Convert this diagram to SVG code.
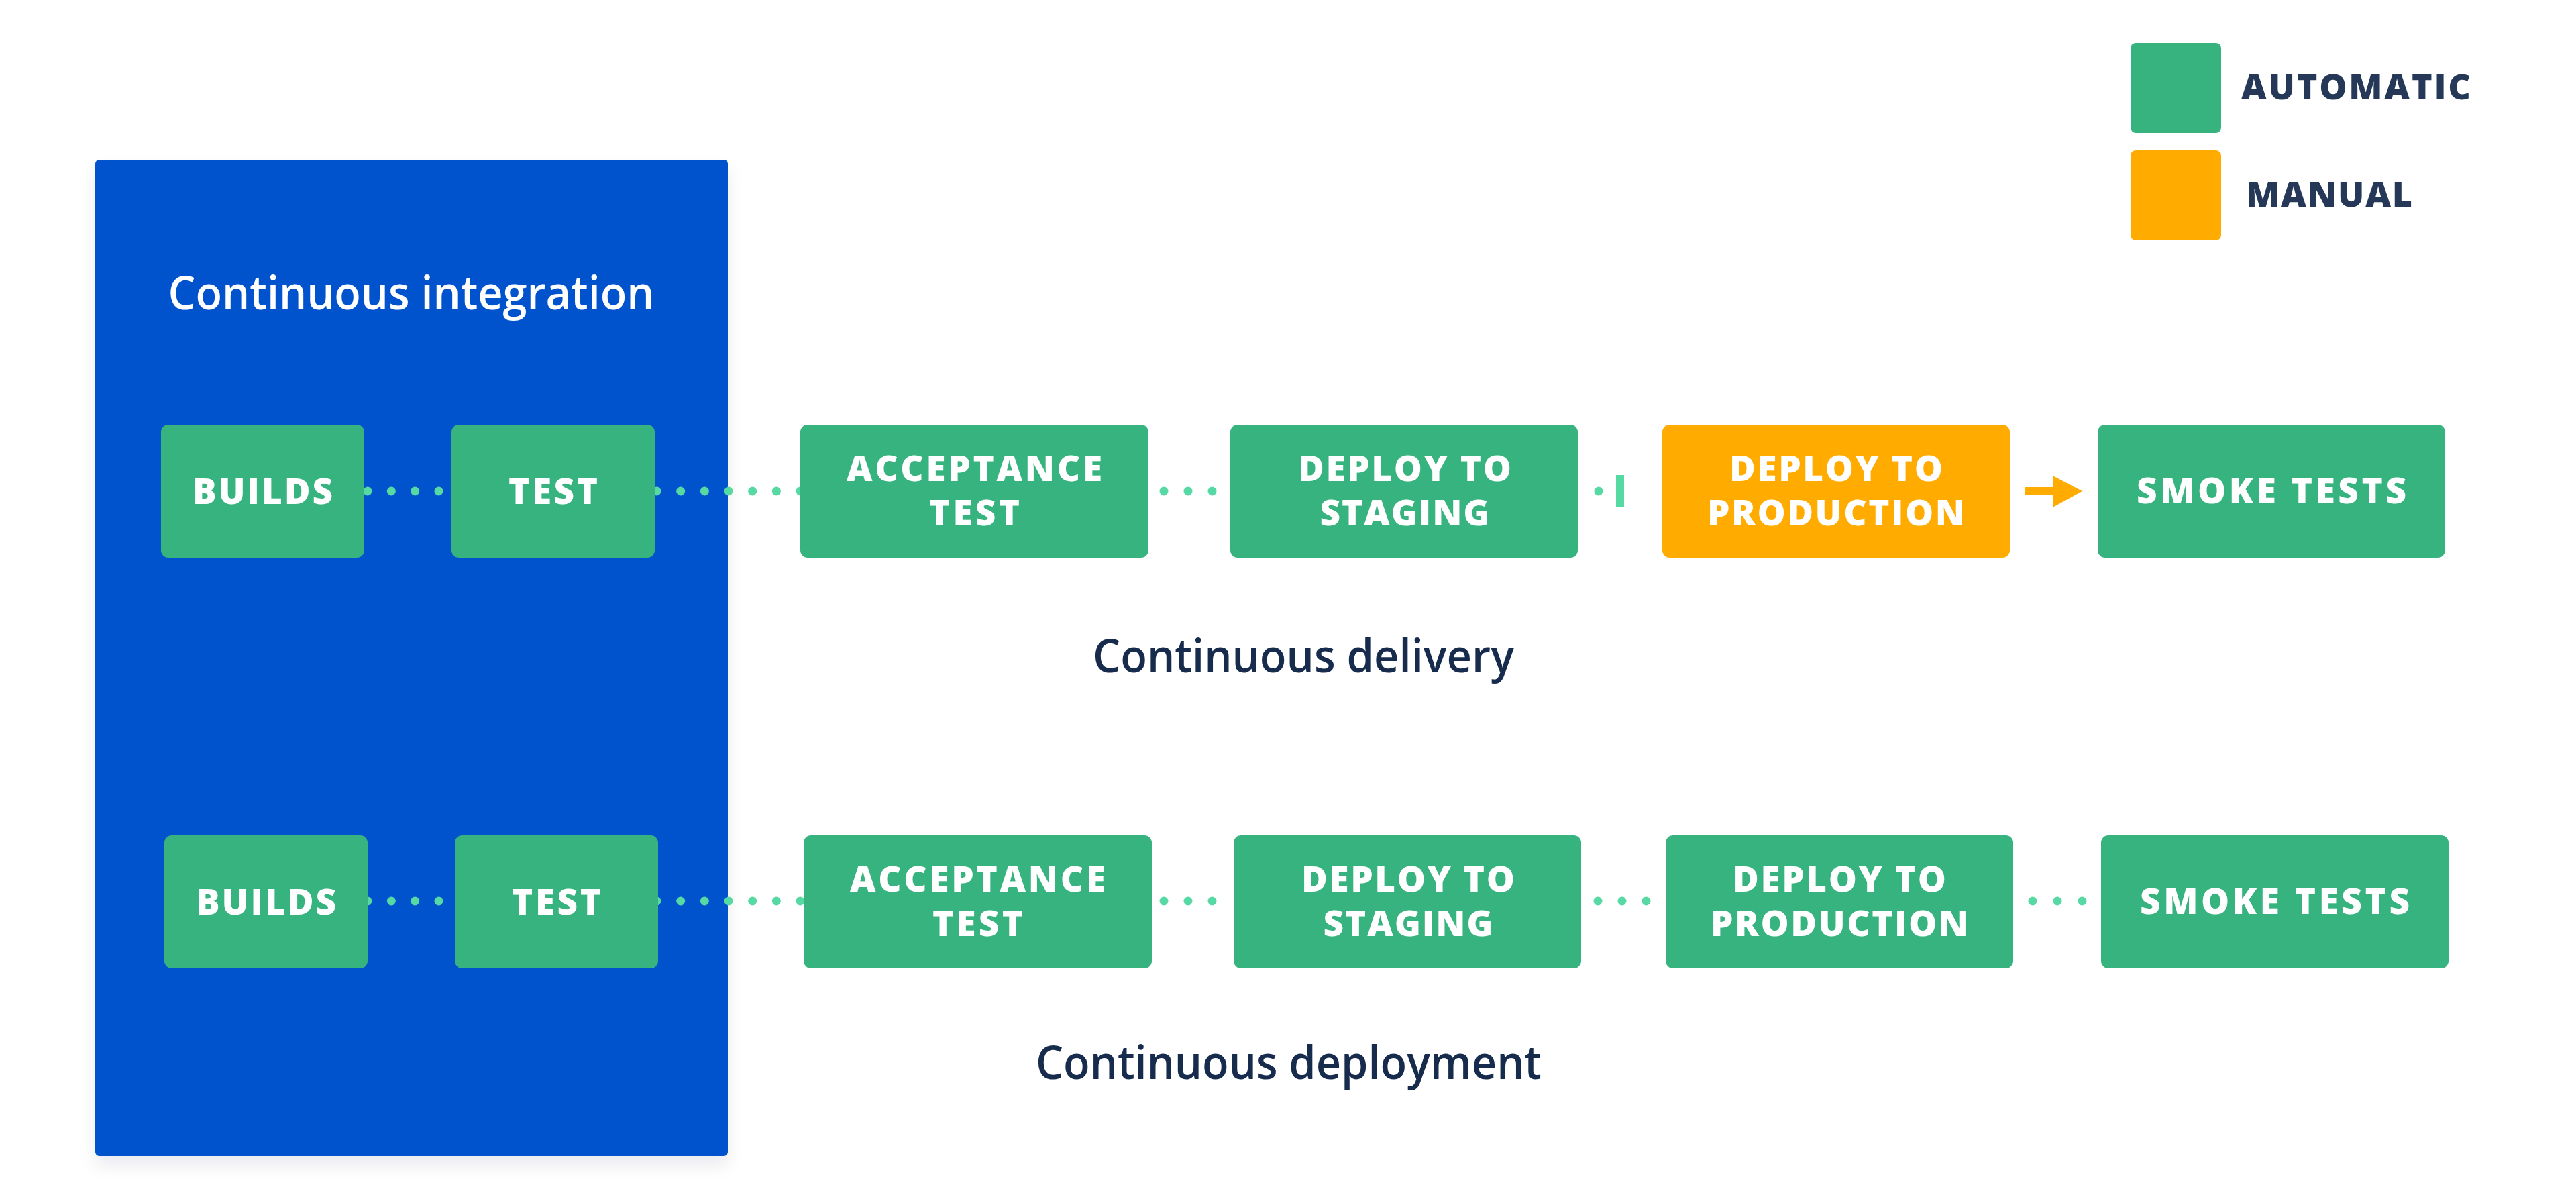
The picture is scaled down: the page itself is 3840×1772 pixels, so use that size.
<svg xmlns="http://www.w3.org/2000/svg" width="3840" height="1772" viewBox="0 0 3840 1772">
<style>
.auto{fill:#36B37E}
.manual{fill:#FFAB00}
.lbl{font-family:"Open Sans","Liberation Sans",sans-serif;font-weight:800;font-size:53px;fill:#FFFFFF;text-anchor:middle}
.title{font-family:"Open Sans","Liberation Sans",sans-serif;font-weight:600;font-size:68px}
.leg{font-family:"Open Sans","Liberation Sans",sans-serif;font-weight:800;font-size:52px;fill:#253858}
.dots{stroke:#57D9A3;stroke-width:13;stroke-linecap:round;fill:none}
</style>
<defs>
<filter id="sh" x="-10%" y="-10%" width="120%" height="120%">
<feDropShadow dx="0" dy="14" stdDeviation="12" flood-color="#091E42" flood-opacity="0.08"/>
</filter>
</defs>
<rect width="3840" height="1772" fill="#FFFFFF"/>

<g id="ci-panel">
<rect x="142" y="238" width="943" height="1485" rx="6" fill="#0052CC" filter="url(#sh)"/>
<text class="title" x="613" y="461" fill="#FFFFFF" text-anchor="middle" textLength="725" lengthAdjust="spacingAndGlyphs">Continuous integration</text>
</g>

<g id="legend">
<rect class="auto" x="3176" y="64" width="135" height="134" rx="8"/>
<text class="leg" x="3341" y="148" textLength="342" lengthAdjust="spacing">AUTOMATIC</text>
<rect class="manual" x="3176" y="224" width="135" height="134" rx="8"/>
<text class="leg" x="3348" y="308" textLength="248" lengthAdjust="spacing">MANUAL</text>
</g>

<g id="connectors">
<!-- row 1 -->
<line class="dots" x1="548" y1="732" x2="656" y2="732" stroke-dasharray="0 35.33"/>
<line class="dots" x1="979" y1="732" x2="1195" y2="732" stroke-dasharray="0 35.67"/>
<line class="dots" x1="1735" y1="732" x2="1809" y2="732" stroke-dasharray="0 36"/>
<circle cx="2383" cy="732" r="6.5" fill="#57D9A3"/>
<rect x="2409" y="708" width="12" height="48" fill="#57D9A3"/>
<path d="M3019 726 H3060 V709 L3104 732 L3060 756 V738 H3019 Z" fill="#FFAB00"/>
<!-- row 2 -->
<line class="dots" x1="548" y1="1343" x2="656" y2="1343" stroke-dasharray="0 35.33"/>
<line class="dots" x1="979" y1="1343" x2="1195" y2="1343" stroke-dasharray="0 35.67"/>
<line class="dots" x1="1735" y1="1343" x2="1809" y2="1343" stroke-dasharray="0 36"/>
<line class="dots" x1="2382" y1="1343" x2="2456" y2="1343" stroke-dasharray="0 36"/>
<line class="dots" x1="3030" y1="1343" x2="3106" y2="1343" stroke-dasharray="0 37"/>
</g>

<g id="row1">
<g id="r1-builds"><rect class="auto" x="240" y="633" width="303" height="198" rx="11"/><text class="lbl" x="391.5" y="751" textLength="209" lengthAdjust="spacing">BUILDS</text></g>
<g id="r1-test"><rect class="auto" x="673" y="633" width="303" height="198" rx="11"/><text class="lbl" x="824.5" y="751" textLength="133" lengthAdjust="spacing">TEST</text></g>
<g id="r1-acceptance"><rect class="auto" x="1193" y="633" width="519" height="198" rx="11"/><text class="lbl" x="1452.5" y="717" textLength="381" lengthAdjust="spacing">ACCEPTANCE</text><text class="lbl" x="1452.5" y="783" textLength="135" lengthAdjust="spacing">TEST</text></g>
<g id="r1-staging"><rect class="auto" x="1834" y="633" width="518" height="198" rx="11"/><text class="lbl" x="2094" y="717" textLength="318" lengthAdjust="spacing">DEPLOY TO</text><text class="lbl" x="2094" y="783" textLength="253" lengthAdjust="spacing">STAGING</text></g>
<g id="r1-production"><rect class="manual" x="2478" y="633" width="518" height="198" rx="11"/><text class="lbl" x="2737" y="717" textLength="318" lengthAdjust="spacing">DEPLOY TO</text><text class="lbl" x="2737" y="783" textLength="384" lengthAdjust="spacing">PRODUCTION</text></g>
<g id="r1-smoke"><rect class="auto" x="3127" y="633" width="518" height="198" rx="11"/><text class="lbl" x="3386" y="750" textLength="402" lengthAdjust="spacing">SMOKE TESTS</text></g>
</g>
<text id="label-delivery" class="title" x="1629" y="1002" fill="#172B4D" textLength="628" lengthAdjust="spacingAndGlyphs">Continuous delivery</text>

<g id="row2">
<g id="r2-builds"><rect class="auto" x="245" y="1245" width="303" height="198" rx="11"/><text class="lbl" x="396.5" y="1363" textLength="209" lengthAdjust="spacing">BUILDS</text></g>
<g id="r2-test"><rect class="auto" x="678" y="1245" width="303" height="198" rx="11"/><text class="lbl" x="829.5" y="1363" textLength="133" lengthAdjust="spacing">TEST</text></g>
<g id="r2-acceptance"><rect class="auto" x="1198" y="1245" width="519" height="198" rx="11"/><text class="lbl" x="1457.5" y="1329" textLength="381" lengthAdjust="spacing">ACCEPTANCE</text><text class="lbl" x="1457.5" y="1395" textLength="135" lengthAdjust="spacing">TEST</text></g>
<g id="r2-staging"><rect class="auto" x="1839" y="1245" width="518" height="198" rx="11"/><text class="lbl" x="2099" y="1329" textLength="318" lengthAdjust="spacing">DEPLOY TO</text><text class="lbl" x="2099" y="1395" textLength="253" lengthAdjust="spacing">STAGING</text></g>
<g id="r2-production"><rect class="auto" x="2483" y="1245" width="518" height="198" rx="11"/><text class="lbl" x="2742" y="1329" textLength="318" lengthAdjust="spacing">DEPLOY TO</text><text class="lbl" x="2742" y="1395" textLength="384" lengthAdjust="spacing">PRODUCTION</text></g>
<g id="r2-smoke"><rect class="auto" x="3132" y="1245" width="518" height="198" rx="11"/><text class="lbl" x="3391" y="1362" textLength="402" lengthAdjust="spacing">SMOKE TESTS</text></g>
</g>
<text id="label-deployment" class="title" x="1544" y="1608" fill="#172B4D" textLength="754" lengthAdjust="spacingAndGlyphs">Continuous deployment</text>
</svg>
